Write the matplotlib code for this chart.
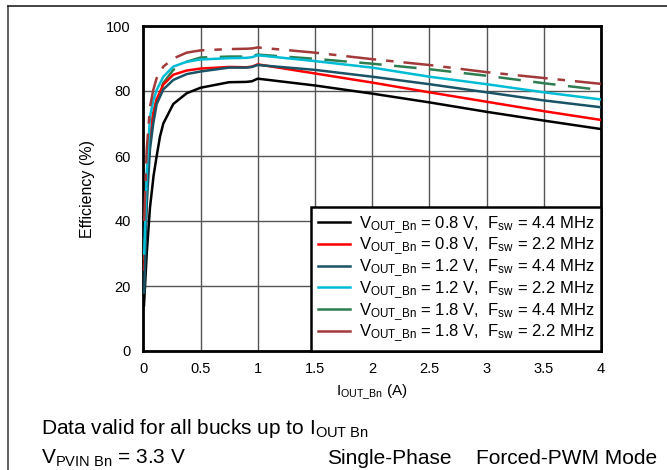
import matplotlib
matplotlib.use("Agg")
import matplotlib.pyplot as plt
from matplotlib.lines import Line2D

plt.rcParams['font.family'] = ['Liberation Sans', 'DejaVu Sans']
plt.rcParams['mathtext.fontset'] = 'custom'
plt.rcParams['mathtext.rm'] = 'Liberation Sans'
plt.rcParams['mathtext.it'] = 'Liberation Sans'

# Data
x_black = [0.006, 0.03, 0.058, 0.09, 0.117, 0.146, 0.175, 0.262, 0.379, 0.5, 0.75, 0.9, 0.95, 1.0, 1.5, 2.0, 2.5, 3.0, 3.5, 4.0]
y_black = [14, 30, 44, 54, 60, 66, 70, 76, 79.3, 81, 82.7, 82.8, 83.0, 83.8, 81.7, 79.2, 76.5, 73.6, 70.9, 68.3]

x_common = [0.008, 0.03, 0.058, 0.087, 0.117, 0.175, 0.262, 0.379, 0.5, 0.75, 0.9, 0.95, 1.0, 1.5, 2.0, 2.5, 3.0, 3.5, 4.0]
y_teal = [18, 45, 62, 70, 76, 80.5, 83.4, 85.2, 86.0, 87.2, 87.2, 87.4, 88.0, 86.5, 84.4, 82.1, 79.6, 77.1, 75.0]
y_red = [25, 50, 65, 73, 77.5, 82, 85, 86.3, 86.9, 87.4, 87.3, 87.5, 88.2, 85.4, 82.6, 79.6, 76.7, 73.8, 71.1]
y_cyan = [30, 55, 72, 77, 80.3, 84.4, 87.5, 89.0, 89.7, 90.1, 90.2, 90.4, 91.0, 89.2, 87.2, 84.4, 82.1, 79.6, 77.4]
y_green = [28, 52, 66, 73, 77.5, 82.5, 86.5, 89.0, 90.3, 90.6, 90.6, 90.8, 91.2, 89.9, 88.4, 86.7, 84.7, 82.4, 80.3]
y_dred = [40, 62, 75, 80.3, 84, 87.5, 90.0, 91.8, 92.5, 92.9, 93.0, 93.1, 93.4, 91.8, 89.8, 88.0, 85.8, 84.0, 82.2]

labels = [
    r'V$_{\mathregular{OUT\_Bn}}$ = 0.8 V,  F$_{\mathregular{sw}}$ = 4.4 MHz',
    r'V$_{\mathregular{OUT\_Bn}}$ = 0.8 V,  F$_{\mathregular{sw}}$ = 2.2 MHz',
    r'V$_{\mathregular{OUT\_Bn}}$ = 1.2 V,  F$_{\mathregular{sw}}$ = 4.4 MHz',
    r'V$_{\mathregular{OUT\_Bn}}$ = 1.2 V,  F$_{\mathregular{sw}}$ = 2.2 MHz',
    r'V$_{\mathregular{OUT\_Bn}}$ = 1.8 V,  F$_{\mathregular{sw}}$ = 4.4 MHz',
    r'V$_{\mathregular{OUT\_Bn}}$ = 1.8 V,  F$_{\mathregular{sw}}$ = 2.2 MHz',
]
x_ticks = [0, 0.5, 1, 1.5, 2, 2.5, 3, 3.5, 4]
x_ticklabels = ['0', '0.5', '1', '1.5', '2', '2.5', '3', '3.5', '4']
y_ticks = [0, 20, 40, 60, 80, 100]

colors = ['#000000', '#ff0000', '#1a5366', '#00bcd4', '#2e7d50', '#a33a3a']

W, H = 667, 470
fig = plt.figure(figsize=(W / 100, H / 100), dpi=100)
ax = fig.add_axes([143.3 / W, 1 - 351 / H, (600.9 - 143.3) / W, (351 - 26) / H])

ax.plot(x_black, y_black, color=colors[0], lw=1.8, zorder=5)
ax.plot(x_common, y_red, color=colors[1], lw=1.8, zorder=5)
ax.plot(x_common, y_teal, color=colors[2], lw=1.8, zorder=5)
ax.plot(x_common, y_green, color=colors[4], lw=1.8, dashes=(9, 5), zorder=4)
ax.plot(x_common, y_cyan, color=colors[3], lw=1.8, zorder=5)
ax.plot(x_common, y_dred, color=colors[5], lw=1.8, dashes=(12, 4, 3, 4), zorder=5)

ax.set_xlim(0, 4)
ax.set_ylim(0, 100)
ax.set_xticks(x_ticks)
ax.set_xticklabels(x_ticklabels)
ax.set_yticks(y_ticks)
ax.tick_params(axis='x', length=0, labelsize=10.5, pad=8)
ax.tick_params(axis='y', length=0, labelsize=10.5, pad=9)
ax.grid(True, color='#555555', lw=1.0)
for s in ax.spines.values():
    s.set_linewidth(2.0)
    s.set_color('black')
ax.set_xlabel(r'I$_{\mathregular{OUT\_Bn}}$ (A)', fontsize=11, labelpad=5)
ax.set_ylabel('Efficiency (%)', fontsize=11.5, labelpad=8)

handles = [Line2D([], [], color=c, lw=1.8) for c in colors]
leg = ax.legend(handles, labels, loc='lower right', fontsize=12, frameon=True,
                fancybox=False, framealpha=1, edgecolor='black', borderaxespad=0,
                handlelength=1.9, handletextpad=0.55, labelspacing=0.0, borderpad=0.4)
leg.get_frame().set_linewidth(1.8)
leg.set_zorder(10)

# Frame lines of figure
fig.add_artist(Line2D([8 / W, 8 / W], [0, 1 - 6 / H], color='#444444', lw=1.2))
fig.add_artist(Line2D([8 / W, 1], [1 - 6 / H, 1 - 6 / H], color='#222222', lw=1.2))

fig.text(41 / W, 1 - 434 / H, r'Data valid for all bucks up to I$_{\mathregular{OUT\ Bn}}$', fontsize=15, va='baseline')
fig.text(41 / W, 1 - 464 / H, r'V$_{\mathregular{PVIN\ Bn}}$ = 3.3 V', fontsize=15, va='baseline')
fig.text(327 / W, 1 - 464 / H, 'Single-Phase', fontsize=15, va='baseline')
fig.text(476 / W, 1 - 464 / H, 'Forced-PWM Mode', fontsize=15, va='baseline')

fig.savefig('out.png', dpi=100)
